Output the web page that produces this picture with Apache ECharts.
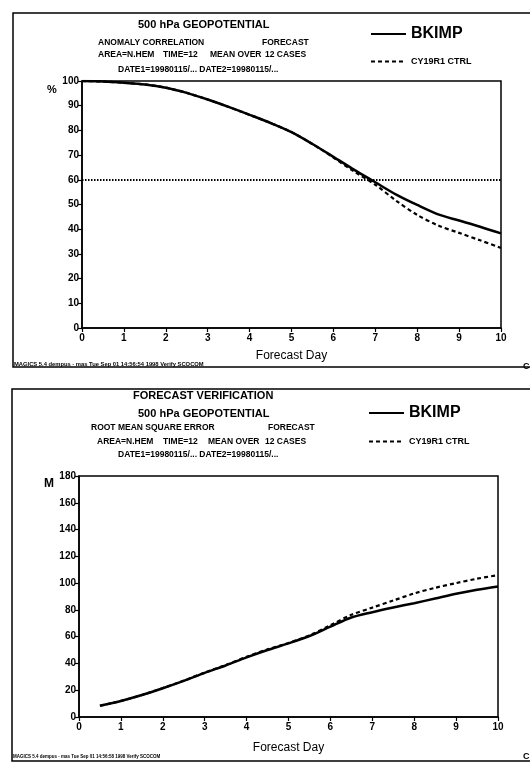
<!DOCTYPE html>
<html>
<head>
<meta charset="utf-8">
<script src="https://cdn.jsdelivr.net/npm/echarts@6/dist/echarts.min.js"></script>
<style>
html,body{margin:0;padding:0;background:#fff;}
#chart{width:530px;height:762px;}
</style>
</head>
<body>
<div id="chart"></div>
<script>
// ---- data ----
const acDays = [0,0.5,1,1.5,2,2.5,3,3.5,4,4.5,5,5.5,6,6.5,7,7.5,8,8.5,9,9.5,10];
const acBkimp = [100,99.8,99.3,98.6,97.3,95.2,92.5,89.5,86.3,83.0,79.3,74.5,69.3,64.0,59.0,54.0,49.8,46.0,43.5,41.0,38.3];
const acCtrl  = [100,99.8,99.3,98.6,97.3,95.2,92.5,89.5,86.3,83.0,79.3,74.5,69.0,63.3,58.0,51.5,45.8,41.5,38.5,35.5,32.4];
const acRef = 60;
const rmseDays = [0.5,1,1.5,2,2.5,3,3.5,4,4.5,5,5.5,6,6.5,7,7.5,8,8.5,9,9.5,10];
const rmseBkimp = [8.4,12.0,16.4,21.5,27.0,33.0,38.5,44.5,50.0,55.0,60.5,67.5,74.3,78.3,81.8,85.0,88.5,92.0,95.0,97.5];
const rmseCtrl  = [8.4,12.0,16.4,21.6,27.2,33.2,38.8,45.0,50.5,55.3,61.0,68.5,76.3,81.7,87.0,92.3,96.5,100.0,103.3,106.0];
const seriesNames = ['BKIMP','CY19R1 CTRL'];
const xName = 'Forecast Day';
const topTitle = ['500 hPa GEOPOTENTIAL'];
const botTitle = ['FORECAST VERIFICATION','500 hPa GEOPOTENTIAL'];
const topScore = 'ANOMALY CORRELATION';
const botScore = 'ROOT MEAN SQUARE ERROR';
const fcLabel = 'FORECAST';
const areaParts = ['AREA=N.HEM','TIME=12','MEAN OVER','12 CASES'];
const dateLine = 'DATE1=19980115/... DATE2=19980115/...';
const footerTop = 'MAGICS 5.4 dempus - mas Tue Sep 01 14:56:54 1998 Verify SCOCOM';
const footerBot = 'MAGICS 5.4 dempus - mas Tue Sep 01 14:56:58 1998 Verify SCOCOM';

const FONT = '"Liberation Sans", Arial, sans-serif';
const pair = (xs, ys) => xs.map((x, i) => [x, ys[i]]);

const chart = echarts.init(document.getElementById('chart'), null, {renderer:'canvas'});

function txt(x, y, s, size, weight) {
  return {
    type:'text', left:x, top:y,
    style:{text:s, font:(weight || 'bold') + ' ' + size + 'px ' + FONT, fill:'#000'}
  };
}

const g = [];
// panel frames
g.push({type:'rect', shape:{x:13, y:13, width:540, height:354}, style:{fill:'none', stroke:'#000', lineWidth:1.5}});
g.push({type:'rect', shape:{x:12, y:389, width:540, height:372}, style:{fill:'none', stroke:'#000', lineWidth:1.5}});
// top panel texts
g.push(txt(138, 19, topTitle[0], 11));
g.push(txt(98, 38, topScore, 8.5));
g.push(txt(262, 38, fcLabel, 8.5));
[98,163,210,265].forEach((x,i)=>g.push(txt(x, 50, areaParts[i], 8.5)));
g.push(txt(118, 65, dateLine, 8.5));
g.push(txt(47, 84, '%', 11));
g.push(txt(14, 361, footerTop, 5.8));
g.push(txt(523, 362, 'C', 9));
// bottom panel texts
g.push(txt(133, 390, botTitle[0], 11));
g.push(txt(138, 408, botTitle[1], 11));
g.push(txt(91, 423, botScore, 8.5));
g.push(txt(268, 423, fcLabel, 8.5));
[97,163,208,265].forEach((x,i)=>g.push(txt(x, 437, areaParts[i], 8.5)));
g.push(txt(118, 450, dateLine, 8.5));
g.push(txt(44, 478, 'M', 12));
g.push(txt(13, 754, footerBot, 4.5));
g.push(txt(523, 752, 'C', 9));

function xAxisCfg(gi) {
  return {
    type:'value', gridIndex:gi, min:0, max:10, interval:1,
    name:xName, nameLocation:'middle', nameGap:gi===0?22:25,
    nameTextStyle:{fontFamily:FONT, fontSize:12, color:'#000'},
    axisLine:{lineStyle:{color:'#000', width:1.5}},
    axisTick:{inside:false, length:4, lineStyle:{color:'#000', width:1.2}},
    axisLabel:{fontFamily:FONT, fontWeight:'bold', fontSize:10, color:'#000', margin:5},
    splitLine:{show:false}
  };
}
function yAxisCfg(gi, max, interval) {
  return {
    type:'value', gridIndex:gi, min:0, max:max, interval:interval,
    axisLine:{show:true, lineStyle:{color:'#000', width:1.5}},
    axisTick:{show:true, inside:false, length:4, lineStyle:{color:'#000', width:1.2}},
    axisLabel:{fontFamily:FONT, fontWeight:'bold', fontSize:10, color:'#000', margin:3},
    splitLine:{show:false}
  };
}
function legendCfg(top, left, gap) {
  return {
    orient:'vertical', left:left, top:top, padding:0, itemWidth:35, itemHeight:10, itemGap:gap,
    itemStyle:{opacity:0},
    data:[
      {name:seriesNames[0], textStyle:{fontFamily:FONT, fontWeight:'bold', fontSize:16, color:'#000'}},
      {name:seriesNames[1], textStyle:{fontFamily:FONT, fontWeight:'bold', fontSize:9, color:'#000'}}
    ],
    textStyle:{color:'#000'}
  };
}
const solidStyle = {color:'#000', width:2.5, type:'solid'};
const dashStyle = {color:'#000', width:2.2, type:[4,3]};

chart.setOption({
  animation:false,
  backgroundColor:'#fff',
  graphic:g,
  grid:[
    {left:82, top:81, width:419, height:247, show:true, borderColor:'#000', borderWidth:1.5},
    {left:79, top:476, width:419, height:241, show:true, borderColor:'#000', borderWidth:1.5}
  ],
  legend:[legendCfg(26, 370, 15), legendCfg(405, 368, 16)],
  xAxis:[xAxisCfg(0), xAxisCfg(1)],
  yAxis:[yAxisCfg(0, 100, 10), yAxisCfg(1, 180, 20)],
  series:[
    {name:seriesNames[0], type:'line', xAxisIndex:0, yAxisIndex:0, data:pair(acDays, acBkimp),
     symbol:'none', smooth:0.3, lineStyle:solidStyle, itemStyle:{color:'#000'},
     markLine:{silent:true, symbol:['none','none'], label:{show:false},
       lineStyle:{color:'#000', width:2, type:[1.5,1.5]}, data:[{yAxis:acRef}]}},
    {name:seriesNames[1], type:'line', xAxisIndex:0, yAxisIndex:0, data:pair(acDays, acCtrl),
     symbol:'none', smooth:0.3, lineStyle:dashStyle, itemStyle:{color:'#000'}},
    {name:seriesNames[0], type:'line', xAxisIndex:1, yAxisIndex:1, data:pair(rmseDays, rmseBkimp),
     symbol:'none', smooth:0.3, lineStyle:solidStyle, itemStyle:{color:'#000'}},
    {name:seriesNames[1], type:'line', xAxisIndex:1, yAxisIndex:1, data:pair(rmseDays, rmseCtrl),
     symbol:'none', smooth:0.3, lineStyle:dashStyle, itemStyle:{color:'#000'}}
  ]
});
</script>
</body>
</html>
